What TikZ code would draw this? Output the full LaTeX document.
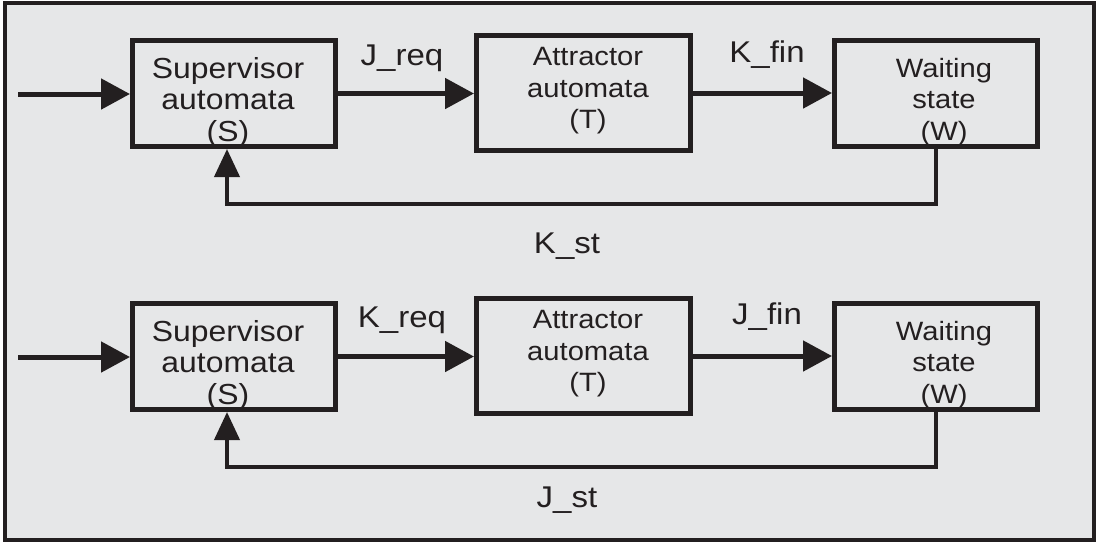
\documentclass[tikz,border=0pt]{standalone}
\usepackage{fontspec}
\setmainfont{Liberation Sans}[FakeStretch=1.1]
\usetikzlibrary{arrows.meta}
\definecolor{panel}{HTML}{E6E7E8}
\definecolor{ink}{HTML}{231F20}
\begin{document}
\begin{tikzpicture}[x=1pt,y=-1pt,
  frame/.style={draw=ink, fill=panel, line width=4pt, inner sep=0pt},
  blk/.style={draw=ink, line width=5pt, inner sep=0pt},
  sbox/.style={blk, minimum width=203pt, minimum height=106pt},
  tbox/.style={blk, minimum width=214pt, minimum height=115pt},
  wbox/.style={blk, minimum width=203pt, minimum height=106pt},
  big/.style={text=ink, align=center, font=\fontsize{29}{31.5}\selectfont},
  small/.style={text=ink, align=center, font=\fontsize{26.5}{31.5}\selectfont},
  lbl/.style={text=ink, font=\fontsize{30}{32}\selectfont},
  flow/.style={draw=ink, line width=5pt, -{Triangle[length=29pt,width=30pt]}},
  back/.style={draw=ink, line width=4pt, -{Triangle[length=28pt,width=25pt]}}]
\useasboundingbox (0,0) rectangle (1100,547);
\fill[white] (0,0) rectangle (1100,547);
\node[frame, minimum width=1089pt, minimum height=537pt] (panel) at (549.5,271.5) {};

% upper loop
\node[sbox] (S1) at (234,93.5) {};
\node[tbox] (T1) at (583.5,93) {};
\node[wbox] (W1) at (936,93.5) {};
\node[big]   (S1t) at (228,102) {Supervisor\\automata\\(S)};
\node[small] (T1t) at (588,91) {Attractor\\automata\\(T)};
\node[small] (W1t) at (944,102) {Waiting\\state\\(W)};
\coordinate (in1) at (18,94);
\coordinate (fb1) at (227,204);
\draw[flow] (in1) -- (in1 -| S1.west);
\draw[flow] (S1.east) -- (S1.east -| T1.west);
\draw[flow] (T1.east) -- (T1.east -| W1.west);
\draw[back] (W1.south) |- (fb1) -- (fb1 |- S1.south);
\node[lbl] (jreq) at (402,58) {J\_req};
\node[lbl] (kfin) at (767,55) {K\_fin};
\node[lbl] (kst)  at (567,246) {K\_st};

% lower loop
\node[sbox] (S2) at (234,356.5) {};
\node[tbox] (T2) at (583.5,356) {};
\node[wbox] (W2) at (936,356.5) {};
\node[big]   (S2t) at (228,365) {Supervisor\\automata\\(S)};
\node[small] (T2t) at (588,354) {Attractor\\automata\\(T)};
\node[small] (W2t) at (944,365) {Waiting\\state\\(W)};
\coordinate (in2) at (18,357);
\coordinate (fb2) at (227,467);
\draw[flow] (in2) -- (in2 -| S2.west);
\draw[flow] (S2.east) -- (S2.east -| T2.west);
\draw[flow] (T2.east) -- (T2.east -| W2.west);
\draw[back] (W2.south) |- (fb2) -- (fb2 |- S2.south);
\node[lbl] (kreq) at (402,320) {K\_req};
\node[lbl] (jfin) at (767,317) {J\_fin};
\node[lbl] (jst)  at (567,500) {J\_st};
\end{tikzpicture}
\end{document}
